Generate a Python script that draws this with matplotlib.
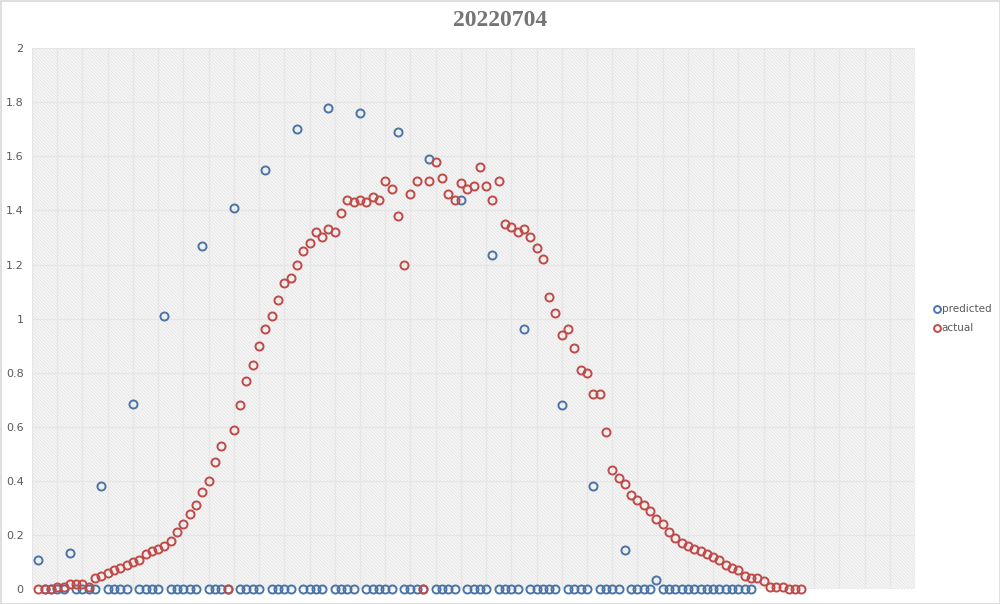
import numpy as np
import matplotlib
matplotlib.use("Agg")
import matplotlib.pyplot as plt
from matplotlib.patches import Rectangle
from matplotlib.ticker import MultipleLocator, FormatStrFormatter

# values, one per time step (step 1 = first point)
predicted = [0.11, 0, 0, 0, 0, 0.135, 0, 0, 0, 0,
             0.38, 0, 0, 0, 0, 0.685, 0, 0, 0, 0,
             1.01, 0, 0, 0, 0, 0, 1.27, 0, 0, 0,
             0, 1.41, 0, 0, 0, 0, 1.55, 0, 0, 0,
             0, 1.70, 0, 0, 0, 0, 1.78, 0, 0, 0,
             0, 1.76, 0, 0, 0, 0, 0, 1.69, 0, 0,
             0, 0, 1.59, 0, 0, 0, 0, 1.44, 0, 0,
             0, 0, 1.235, 0, 0, 0, 0, 0.96, 0, 0,
             0, 0, 0, 0.68, 0, 0, 0, 0, 0.38, 0,
             0, 0, 0, 0.145, 0, 0, 0, 0, 0.035, 0,
             0, 0, 0, 0, 0, 0, 0, 0, 0, 0,
             0, 0, 0, 0]

actual = [0, 0, 0, 0.01, 0.01, 0.02, 0.02, 0.02, 0.01, 0.04,
          0.05, 0.06, 0.07, 0.08, 0.09, 0.10, 0.11, 0.13, 0.14, 0.15,
          0.16, 0.18, 0.21, 0.24, 0.28, 0.31, 0.36, 0.40, 0.47, 0.53,
          0, 0.59, 0.68, 0.77, 0.83, 0.90, 0.96, 1.01, 1.07, 1.13,
          1.15, 1.20, 1.25, 1.28, 1.32, 1.30, 1.33, 1.32, 1.39, 1.44,
          1.43, 1.44, 1.43, 1.45, 1.44, 1.51, 1.48, 1.38, 1.20, 1.46,
          1.51, 0, 1.51, 1.58, 1.52, 1.46, 1.44, 1.50, 1.48, 1.49,
          1.56, 1.49, 1.44, 1.51, 1.35, 1.34, 1.32, 1.33, 1.30, 1.26,
          1.22, 1.08, 1.02, 0.94, 0.96, 0.89, 0.81, 0.80, 0.72, 0.72,
          0.58, 0.44, 0.41, 0.39, 0.35, 0.33, 0.31, 0.29, 0.26, 0.24,
          0.21, 0.19, 0.17, 0.16, 0.15, 0.14, 0.13, 0.12, 0.11, 0.09,
          0.08, 0.07, 0.05, 0.04, 0.04, 0.03, 0.01, 0.01, 0.01, 0,
          0, 0]

title = "20220704"

x_pred = np.arange(1, len(predicted) + 1)
x_act = np.arange(1, len(actual) + 1)

plt.rcParams['hatch.color'] = '#e2e2e2'
plt.rcParams['hatch.linewidth'] = 0.5

fig = plt.figure(figsize=(10, 6.04), dpi=100)
ax = fig.add_axes([0.032, 0.0243, 0.883, 0.8962])

# hatched plot area like the excel pattern fill
ax.add_patch(Rectangle((0, 0), 1, 1, transform=ax.transAxes, facecolor='#f6f6f6',
                       edgecolor='#e2e2e2', hatch='\\' * 10, lw=0, zorder=0))

ax.set_xlim(0, 140)
ax.set_ylim(0, 2)
ax.xaxis.set_major_locator(MultipleLocator(4))
ax.yaxis.set_major_locator(MultipleLocator(0.2))
ax.yaxis.set_major_formatter(FormatStrFormatter('%g'))
ax.grid(True, color='#e6e6e6', lw=0.9, zorder=1)
ax.set_axisbelow(True)
ax.tick_params(axis='x', length=0, labelbottom=False)
ax.tick_params(axis='y', length=0, labelsize=8, labelcolor='#595959', pad=6)
for s in ax.spines.values():
    s.set_visible(False)

ax.plot(x_pred, predicted, 'o', mfc='none', mec='#4a74a8', ms=5.8, mew=1.4,
        clip_on=False, zorder=3, label='predicted')
ax.plot(x_act, actual, 'o', mfc='none', mec='#bf4a47', ms=5.8, mew=1.4,
        clip_on=False, zorder=4, label='actual')

fig.text(0.5, 0.966, title, ha='center', va='center', fontsize=17,
         fontweight='bold', color='#757575', family='Liberation Serif')

fig.legend(loc='center left', bbox_to_anchor=(0.924, 0.472), frameon=False,
           fontsize=7.5, labelcolor='#595959', handlelength=0.6, handletextpad=0.2,
           labelspacing=0.85, markerscale=0.85)

fig.add_artist(Rectangle((0.0005, 0.0008), 0.999, 0.998, transform=fig.transFigure,
                         fill=False, edgecolor='#d9d9d9', lw=1.2))

fig.savefig("out.png", dpi=100)
